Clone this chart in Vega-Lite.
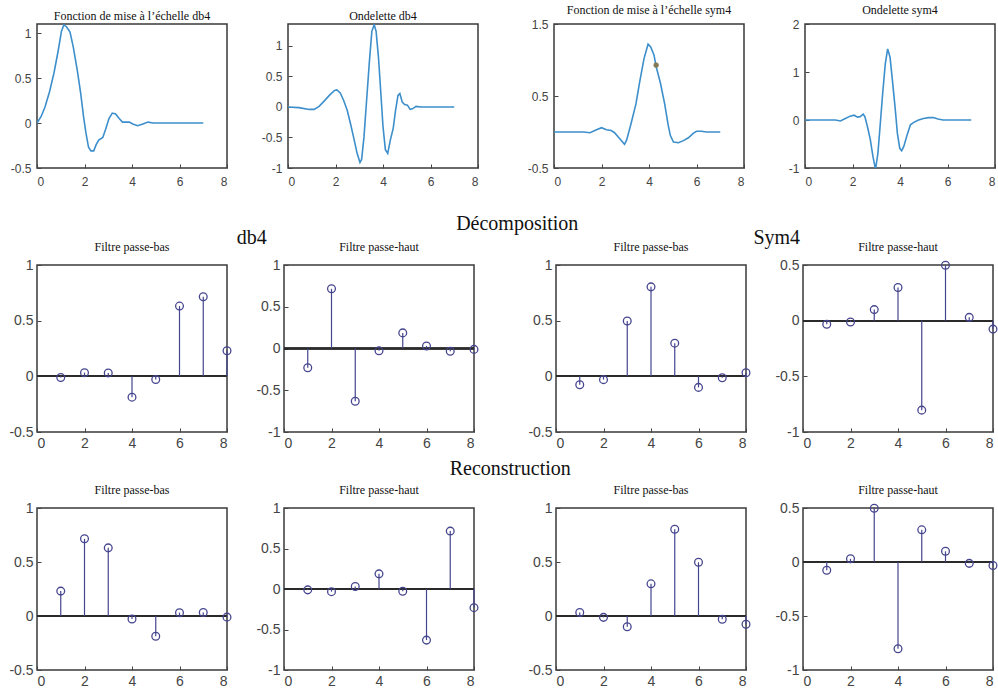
{
"$schema":"https://vega.github.io/schema/vega-lite/v6.json",
"background":"white",
"padding":{"left":4,"top":3,"right":0,"bottom":0},
"datasets":{
"curves":[
{"p":"phi_db4","t":0,"v":0},{"p":"phi_db4","t":0.17,"v":0.07},{"p":"phi_db4","t":0.34,"v":0.18},{"p":"phi_db4","t":0.53,"v":0.35},{"p":"phi_db4","t":0.71,"v":0.55},{"p":"phi_db4","t":0.89,"v":0.8},{"p":"phi_db4","t":1.03,"v":1.02},{"p":"phi_db4","t":1.13,"v":1.09},{"p":"phi_db4","t":1.24,"v":1.07},{"p":"phi_db4","t":1.39,"v":1.01},{"p":"phi_db4","t":1.53,"v":0.84},{"p":"phi_db4","t":1.7,"v":0.58},{"p":"phi_db4","t":1.84,"v":0.33},{"p":"phi_db4","t":1.96,"v":0.07},{"p":"phi_db4","t":2.06,"v":-0.11},{"p":"phi_db4","t":2.17,"v":-0.27},{"p":"phi_db4","t":2.27,"v":-0.31},{"p":"phi_db4","t":2.39,"v":-0.31},{"p":"phi_db4","t":2.49,"v":-0.24},{"p":"phi_db4","t":2.6,"v":-0.19},{"p":"phi_db4","t":2.77,"v":-0.16},{"p":"phi_db4","t":2.89,"v":-0.07},{"p":"phi_db4","t":3.03,"v":0.05},{"p":"phi_db4","t":3.17,"v":0.11},{"p":"phi_db4","t":3.31,"v":0.1},{"p":"phi_db4","t":3.46,"v":0.05},{"p":"phi_db4","t":3.6,"v":0.01},{"p":"phi_db4","t":3.74,"v":0.01},{"p":"phi_db4","t":3.89,"v":0.01},{"p":"phi_db4","t":4.03,"v":-0.01},{"p":"phi_db4","t":4.24,"v":-0.03},{"p":"phi_db4","t":4.46,"v":-0.01},{"p":"phi_db4","t":4.67,"v":0.01},{"p":"phi_db4","t":4.89,"v":0},{"p":"phi_db4","t":7,"v":0},
{"p":"psi_db4","t":0,"v":0},{"p":"psi_db4","t":0.46,"v":-0.01},{"p":"psi_db4","t":0.89,"v":-0.04},{"p":"psi_db4","t":1.1,"v":-0.04},{"p":"psi_db4","t":1.31,"v":0.01},{"p":"psi_db4","t":1.53,"v":0.1},{"p":"psi_db4","t":1.74,"v":0.19},{"p":"psi_db4","t":1.96,"v":0.27},{"p":"psi_db4","t":2.06,"v":0.28},{"p":"psi_db4","t":2.2,"v":0.23},{"p":"psi_db4","t":2.34,"v":0.11},{"p":"psi_db4","t":2.49,"v":-0.05},{"p":"psi_db4","t":2.63,"v":-0.27},{"p":"psi_db4","t":2.77,"v":-0.51},{"p":"psi_db4","t":2.91,"v":-0.76},{"p":"psi_db4","t":3.03,"v":-0.91},{"p":"psi_db4","t":3.1,"v":-0.86},{"p":"psi_db4","t":3.2,"v":-0.49},{"p":"psi_db4","t":3.31,"v":0.11},{"p":"psi_db4","t":3.43,"v":0.76},{"p":"psi_db4","t":3.53,"v":1.24},{"p":"psi_db4","t":3.63,"v":1.35},{"p":"psi_db4","t":3.71,"v":1.24},{"p":"psi_db4","t":3.81,"v":0.81},{"p":"psi_db4","t":3.91,"v":0.22},{"p":"psi_db4","t":4.0,"v":-0.32},{"p":"psi_db4","t":4.1,"v":-0.7},{"p":"psi_db4","t":4.2,"v":-0.76},{"p":"psi_db4","t":4.31,"v":-0.54},{"p":"psi_db4","t":4.43,"v":-0.35},{"p":"psi_db4","t":4.53,"v":-0.05},{"p":"psi_db4","t":4.63,"v":0.19},{"p":"psi_db4","t":4.71,"v":0.22},{"p":"psi_db4","t":4.81,"v":0.08},{"p":"psi_db4","t":4.91,"v":0.04},{"p":"psi_db4","t":5.03,"v":0.03},{"p":"psi_db4","t":5.14,"v":-0.04},{"p":"psi_db4","t":5.24,"v":-0.03},{"p":"psi_db4","t":5.39,"v":0.01},{"p":"psi_db4","t":5.6,"v":0},{"p":"psi_db4","t":7,"v":0},
{"p":"phi_sym4","t":0,"v":0},{"p":"phi_sym4","t":0.69,"v":0},{"p":"phi_sym4","t":1.24,"v":0},{"p":"phi_sym4","t":1.52,"v":-0.01},{"p":"phi_sym4","t":1.79,"v":0.03},{"p":"phi_sym4","t":2.0,"v":0.06},{"p":"phi_sym4","t":2.21,"v":0.03},{"p":"phi_sym4","t":2.41,"v":0.02},{"p":"phi_sym4","t":2.55,"v":-0.01},{"p":"phi_sym4","t":2.76,"v":-0.09},{"p":"phi_sym4","t":2.97,"v":-0.17},{"p":"phi_sym4","t":3.06,"v":-0.11},{"p":"phi_sym4","t":3.24,"v":0.11},{"p":"phi_sym4","t":3.45,"v":0.39},{"p":"phi_sym4","t":3.61,"v":0.7},{"p":"phi_sym4","t":3.79,"v":1.02},{"p":"phi_sym4","t":3.96,"v":1.22},{"p":"phi_sym4","t":4.07,"v":1.18},{"p":"phi_sym4","t":4.21,"v":1.07},{"p":"phi_sym4","t":4.3,"v":0.91},{"p":"phi_sym4","t":4.48,"v":0.68},{"p":"phi_sym4","t":4.66,"v":0.39},{"p":"phi_sym4","t":4.8,"v":0.11},{"p":"phi_sym4","t":4.9,"v":-0.05},{"p":"phi_sym4","t":5.03,"v":-0.14},{"p":"phi_sym4","t":5.24,"v":-0.15},{"p":"phi_sym4","t":5.45,"v":-0.12},{"p":"phi_sym4","t":5.66,"v":-0.08},{"p":"phi_sym4","t":5.86,"v":-0.02},{"p":"phi_sym4","t":6.0,"v":0.01},{"p":"phi_sym4","t":6.21,"v":0.01},{"p":"phi_sym4","t":6.41,"v":0},{"p":"phi_sym4","t":7,"v":0},
{"p":"psi_sym4","t":0,"v":0},{"p":"psi_sym4","t":0.8,"v":0},{"p":"psi_sym4","t":1.28,"v":0},{"p":"psi_sym4","t":1.49,"v":-0.02},{"p":"psi_sym4","t":1.7,"v":0.03},{"p":"psi_sym4","t":1.9,"v":0.08},{"p":"psi_sym4","t":2.07,"v":0.1},{"p":"psi_sym4","t":2.21,"v":0.06},{"p":"psi_sym4","t":2.32,"v":0.07},{"p":"psi_sym4","t":2.45,"v":0.12},{"p":"psi_sym4","t":2.52,"v":0.07},{"p":"psi_sym4","t":2.63,"v":-0.14},{"p":"psi_sym4","t":2.75,"v":-0.41},{"p":"psi_sym4","t":2.86,"v":-0.76},{"p":"psi_sym4","t":2.97,"v":-1.03},{"p":"psi_sym4","t":3.07,"v":-0.69},{"p":"psi_sym4","t":3.16,"v":-0.14},{"p":"psi_sym4","t":3.27,"v":0.55},{"p":"psi_sym4","t":3.38,"v":1.17},{"p":"psi_sym4","t":3.48,"v":1.48},{"p":"psi_sym4","t":3.58,"v":1.31},{"p":"psi_sym4","t":3.68,"v":0.83},{"p":"psi_sym4","t":3.79,"v":0.28},{"p":"psi_sym4","t":3.89,"v":-0.28},{"p":"psi_sym4","t":3.99,"v":-0.59},{"p":"psi_sym4","t":4.07,"v":-0.64},{"p":"psi_sym4","t":4.16,"v":-0.55},{"p":"psi_sym4","t":4.3,"v":-0.31},{"p":"psi_sym4","t":4.44,"v":-0.1},{"p":"psi_sym4","t":4.58,"v":-0.05},{"p":"psi_sym4","t":4.78,"v":0},{"p":"psi_sym4","t":4.99,"v":0.03},{"p":"psi_sym4","t":5.2,"v":0.05},{"p":"psi_sym4","t":5.4,"v":0.05},{"p":"psi_sym4","t":5.6,"v":0.02},{"p":"psi_sym4","t":5.81,"v":0},{"p":"psi_sym4","t":7,"v":0}
],
"marker":[{"t":4.3,"v":0.93}],
"stems":[
{"p":"d_db4_lo","n":1,"v":-0.0106},{"p":"d_db4_lo","n":2,"v":0.0329},{"p":"d_db4_lo","n":3,"v":0.0308},{"p":"d_db4_lo","n":4,"v":-0.187},{"p":"d_db4_lo","n":5,"v":-0.028},{"p":"d_db4_lo","n":6,"v":0.6309},{"p":"d_db4_lo","n":7,"v":0.7148},{"p":"d_db4_lo","n":8,"v":0.2304},
{"p":"d_db4_hi","n":1,"v":-0.2304},{"p":"d_db4_hi","n":2,"v":0.7148},{"p":"d_db4_hi","n":3,"v":-0.6309},{"p":"d_db4_hi","n":4,"v":-0.028},{"p":"d_db4_hi","n":5,"v":0.187},{"p":"d_db4_hi","n":6,"v":0.0308},{"p":"d_db4_hi","n":7,"v":-0.0329},{"p":"d_db4_hi","n":8,"v":-0.0106},
{"p":"d_sym4_lo","n":1,"v":-0.0758},{"p":"d_sym4_lo","n":2,"v":-0.0296},{"p":"d_sym4_lo","n":3,"v":0.4976},{"p":"d_sym4_lo","n":4,"v":0.8037},{"p":"d_sym4_lo","n":5,"v":0.2979},{"p":"d_sym4_lo","n":6,"v":-0.0992},{"p":"d_sym4_lo","n":7,"v":-0.0126},{"p":"d_sym4_lo","n":8,"v":0.0322},
{"p":"d_sym4_hi","n":1,"v":-0.0322},{"p":"d_sym4_hi","n":2,"v":-0.0126},{"p":"d_sym4_hi","n":3,"v":0.0992},{"p":"d_sym4_hi","n":4,"v":0.2979},{"p":"d_sym4_hi","n":5,"v":-0.8037},{"p":"d_sym4_hi","n":6,"v":0.4976},{"p":"d_sym4_hi","n":7,"v":0.0296},{"p":"d_sym4_hi","n":8,"v":-0.0758},
{"p":"r_db4_lo","n":1,"v":0.2304},{"p":"r_db4_lo","n":2,"v":0.7148},{"p":"r_db4_lo","n":3,"v":0.6309},{"p":"r_db4_lo","n":4,"v":-0.028},{"p":"r_db4_lo","n":5,"v":-0.187},{"p":"r_db4_lo","n":6,"v":0.0308},{"p":"r_db4_lo","n":7,"v":0.0329},{"p":"r_db4_lo","n":8,"v":-0.0106},
{"p":"r_db4_hi","n":1,"v":-0.0106},{"p":"r_db4_hi","n":2,"v":-0.0329},{"p":"r_db4_hi","n":3,"v":0.0308},{"p":"r_db4_hi","n":4,"v":0.187},{"p":"r_db4_hi","n":5,"v":-0.028},{"p":"r_db4_hi","n":6,"v":-0.6309},{"p":"r_db4_hi","n":7,"v":0.7148},{"p":"r_db4_hi","n":8,"v":-0.2304},
{"p":"r_sym4_lo","n":1,"v":0.0322},{"p":"r_sym4_lo","n":2,"v":-0.0126},{"p":"r_sym4_lo","n":3,"v":-0.0992},{"p":"r_sym4_lo","n":4,"v":0.2979},{"p":"r_sym4_lo","n":5,"v":0.8037},{"p":"r_sym4_lo","n":6,"v":0.4976},{"p":"r_sym4_lo","n":7,"v":-0.0296},{"p":"r_sym4_lo","n":8,"v":-0.0758},
{"p":"r_sym4_hi","n":1,"v":-0.0758},{"p":"r_sym4_hi","n":2,"v":0.0296},{"p":"r_sym4_hi","n":3,"v":0.4976},{"p":"r_sym4_hi","n":4,"v":-0.8037},{"p":"r_sym4_hi","n":5,"v":0.2979},{"p":"r_sym4_hi","n":6,"v":0.0992},{"p":"r_sym4_hi","n":7,"v":-0.0126},{"p":"r_sym4_hi","n":8,"v":-0.0322}
]
},
"config":{
"view":{"stroke":"#3a3a3a","strokeWidth":1.5},
"axis":{"domain":false,"grid":false,"title":null,"tickColor":"#444","tickSize":-4,"labelPadding":8,"labelColor":"#444","labelFont":"Liberation Sans","labelFontSize":14,"labelExpr":"replace(format(datum.value, '~g'), '\u2212', '-')"},
"axisY":{"minExtent":32,"maxExtent":32},
"axisX":{"minExtent":18,"maxExtent":18},
"title":{"font":"Liberation Serif","fontSize":12,"fontWeight":"normal","color":"#111","offset":4}
},
"spacing":26,
"vconcat":[
{"spacing":41,"hconcat":[
 {"spacing":26,"hconcat":[
  {"title":{"text":"Fonction de mise à l’échelle db4","offset":1},"width":190,"height":144,"data":{"name":"curves"},"transform":[{"filter":"datum.p=='phi_db4'"}],
   "mark":{"type":"line","color":"#3d8fcc","strokeWidth":1.6,"clip":true},
   "encoding":{"x":{"field":"t","type":"quantitative","scale":{"domain":[0,8],"nice":false},"axis":{"values":[0,2,4,6,8],"labelFontSize":12,"labelPadding":12}},
   "y":{"field":"v","type":"quantitative","scale":{"domain":[-0.5,1.1],"nice":false,"zero":false},"axis":{"values":[-0.5,0,0.5,1],"labelFontSize":12,"labelPadding":10}}}},
  {"title":{"text":"Ondelette db4","offset":1},"width":190,"height":144,"data":{"name":"curves"},"transform":[{"filter":"datum.p=='psi_db4'"}],
   "mark":{"type":"line","color":"#3d8fcc","strokeWidth":1.6,"clip":true},
   "encoding":{"x":{"field":"t","type":"quantitative","scale":{"domain":[0,8],"nice":false},"axis":{"values":[0,2,4,6,8],"labelFontSize":12,"labelPadding":12}},
   "y":{"field":"v","type":"quantitative","scale":{"domain":[-1,1.36],"nice":false,"zero":false},"axis":{"values":[-1,-0.5,0,0.5,1],"labelFontSize":12,"labelPadding":10}}}}
 ]},
 {"spacing":26,"hconcat":[
  {"title":{"text":"Fonction de mise à l’échelle sym4","offset":1},"width":190,"height":144,
   "layer":[
    {"data":{"name":"curves"},"transform":[{"filter":"datum.p=='phi_sym4'"}],
     "mark":{"type":"line","color":"#3d8fcc","strokeWidth":1.6,"clip":true},
     "encoding":{"x":{"field":"t","type":"quantitative","scale":{"domain":[0,8],"nice":false},"axis":{"values":[0,2,4,6,8],"labelFontSize":12,"labelPadding":12}},
     "y":{"field":"v","type":"quantitative","scale":{"domain":[-0.5,1.5],"nice":false,"zero":false},"axis":{"values":[-0.5,0,0.5,1,1.5],"labelFontSize":12,"labelPadding":10}}}},
    {"data":{"name":"marker"},"mark":{"type":"point","shape":"circle","filled":true,"color":"#857a55","size":28,"opacity":1},
     "encoding":{"x":{"field":"t","type":"quantitative"},"y":{"field":"v","type":"quantitative"}}}
   ]},
  {"title":{"text":"Ondelette sym4","offset":1},"width":190,"height":144,"data":{"name":"curves"},"transform":[{"filter":"datum.p=='psi_sym4'"}],
   "mark":{"type":"line","color":"#3d8fcc","strokeWidth":1.6,"clip":true},
   "encoding":{"x":{"field":"t","type":"quantitative","scale":{"domain":[0,8],"nice":false},"axis":{"values":[0,2,4,6,8],"labelFontSize":12,"labelPadding":12}},
   "y":{"field":"v","type":"quantitative","scale":{"domain":[-1,2],"nice":false,"zero":false},"axis":{"values":[-1,0,1,2],"labelFontSize":12,"labelPadding":10}}}}
 ]}
]},
{"spacing":8,"vconcat":[
 {"title":{"text":"Décomposition","fontSize":20,"offset":-6,"anchor":"middle","dx":15},"spacing":41,"hconcat":[
  {"title":{"text":"db4","fontSize":20,"offset":-8,"anchor":"middle","dx":9},"spacing":16,"hconcat":[
   {"title":"Filtre passe-bas","width":190,"height":167,"data":{"name":"stems"},"transform":[{"filter":"datum.p=='d_db4_lo'"}],"layer":[
    {"mark":{"type":"rule","color":"#2b2b2b","strokeWidth":1.5},"encoding":{"y":{"datum":0,"type":"quantitative"}}},
    {"mark":{"type":"rule","color":"#45458f","strokeWidth":1.2},"encoding":{"x":{"field":"n","type":"quantitative","scale":{"domain":[0,8],"nice":false},"axis":{"values":[0,2,4,6,8]}},"y":{"field":"v","type":"quantitative","scale":{"domain":[-0.5,1],"nice":false,"zero":false},"axis":{"values":[-0.5,0,0.5,1]}},"y2":{"datum":0}}},
    {"mark":{"type":"point","shape":"circle","filled":false,"color":"#45458f","size":60,"strokeWidth":1.3,"opacity":1},"encoding":{"x":{"field":"n","type":"quantitative"},"y":{"field":"v","type":"quantitative"}}}]},
   {"title":"Filtre passe-haut","width":190,"height":167,"data":{"name":"stems"},"transform":[{"filter":"datum.p=='d_db4_hi'"}],"layer":[
    {"mark":{"type":"rule","color":"#2b2b2b","strokeWidth":1.5},"encoding":{"y":{"datum":0,"type":"quantitative"}}},
    {"mark":{"type":"rule","color":"#45458f","strokeWidth":1.2},"encoding":{"x":{"field":"n","type":"quantitative","scale":{"domain":[0,8],"nice":false},"axis":{"values":[0,2,4,6,8]}},"y":{"field":"v","type":"quantitative","scale":{"domain":[-1,1],"nice":false,"zero":false},"axis":{"values":[-1,-0.5,0,0.5,1]}},"y2":{"datum":0}}},
    {"mark":{"type":"point","shape":"circle","filled":false,"color":"#45458f","size":60,"strokeWidth":1.3,"opacity":1},"encoding":{"x":{"field":"n","type":"quantitative"},"y":{"field":"v","type":"quantitative"}}}]}
  ]},
  {"title":{"text":"Sym4","fontSize":20,"offset":-8,"anchor":"middle","dx":15},"spacing":16,"hconcat":[
   {"title":"Filtre passe-bas","width":190,"height":167,"data":{"name":"stems"},"transform":[{"filter":"datum.p=='d_sym4_lo'"}],"layer":[
    {"mark":{"type":"rule","color":"#2b2b2b","strokeWidth":1.5},"encoding":{"y":{"datum":0,"type":"quantitative"}}},
    {"mark":{"type":"rule","color":"#45458f","strokeWidth":1.2},"encoding":{"x":{"field":"n","type":"quantitative","scale":{"domain":[0,8],"nice":false},"axis":{"values":[0,2,4,6,8]}},"y":{"field":"v","type":"quantitative","scale":{"domain":[-0.5,1],"nice":false,"zero":false},"axis":{"values":[-0.5,0,0.5,1]}},"y2":{"datum":0}}},
    {"mark":{"type":"point","shape":"circle","filled":false,"color":"#45458f","size":60,"strokeWidth":1.3,"opacity":1},"encoding":{"x":{"field":"n","type":"quantitative"},"y":{"field":"v","type":"quantitative"}}}]},
   {"title":"Filtre passe-haut","width":190,"height":167,"data":{"name":"stems"},"transform":[{"filter":"datum.p=='d_sym4_hi'"}],"layer":[
    {"mark":{"type":"rule","color":"#2b2b2b","strokeWidth":1.5},"encoding":{"y":{"datum":0,"type":"quantitative"}}},
    {"mark":{"type":"rule","color":"#45458f","strokeWidth":1.2},"encoding":{"x":{"field":"n","type":"quantitative","scale":{"domain":[0,8],"nice":false},"axis":{"values":[0,2,4,6,8]}},"y":{"field":"v","type":"quantitative","scale":{"domain":[-1,0.5],"nice":false,"zero":false},"axis":{"values":[-1,-0.5,0,0.5]}},"y2":{"datum":0}}},
    {"mark":{"type":"point","shape":"circle","filled":false,"color":"#45458f","size":60,"strokeWidth":1.3,"opacity":1},"encoding":{"x":{"field":"n","type":"quantitative"},"y":{"field":"v","type":"quantitative"}}}]}
  ]}
 ]},
 {"title":{"text":"Reconstruction","fontSize":20,"offset":4,"anchor":"middle","dx":8},"spacing":41,"hconcat":[
  {"spacing":16,"hconcat":[
   {"title":"Filtre passe-bas","width":190,"height":162,"data":{"name":"stems"},"transform":[{"filter":"datum.p=='r_db4_lo'"}],"layer":[
    {"mark":{"type":"rule","color":"#2b2b2b","strokeWidth":1.5},"encoding":{"y":{"datum":0,"type":"quantitative"}}},
    {"mark":{"type":"rule","color":"#45458f","strokeWidth":1.2},"encoding":{"x":{"field":"n","type":"quantitative","scale":{"domain":[0,8],"nice":false},"axis":{"values":[0,2,4,6,8]}},"y":{"field":"v","type":"quantitative","scale":{"domain":[-0.5,1],"nice":false,"zero":false},"axis":{"values":[-0.5,0,0.5,1]}},"y2":{"datum":0}}},
    {"mark":{"type":"point","shape":"circle","filled":false,"color":"#45458f","size":60,"strokeWidth":1.3,"opacity":1},"encoding":{"x":{"field":"n","type":"quantitative"},"y":{"field":"v","type":"quantitative"}}}]},
   {"title":"Filtre passe-haut","width":190,"height":162,"data":{"name":"stems"},"transform":[{"filter":"datum.p=='r_db4_hi'"}],"layer":[
    {"mark":{"type":"rule","color":"#2b2b2b","strokeWidth":1.5},"encoding":{"y":{"datum":0,"type":"quantitative"}}},
    {"mark":{"type":"rule","color":"#45458f","strokeWidth":1.2},"encoding":{"x":{"field":"n","type":"quantitative","scale":{"domain":[0,8],"nice":false},"axis":{"values":[0,2,4,6,8]}},"y":{"field":"v","type":"quantitative","scale":{"domain":[-1,1],"nice":false,"zero":false},"axis":{"values":[-1,-0.5,0,0.5,1]}},"y2":{"datum":0}}},
    {"mark":{"type":"point","shape":"circle","filled":false,"color":"#45458f","size":60,"strokeWidth":1.3,"opacity":1},"encoding":{"x":{"field":"n","type":"quantitative"},"y":{"field":"v","type":"quantitative"}}}]}
  ]},
  {"spacing":16,"hconcat":[
   {"title":"Filtre passe-bas","width":190,"height":162,"data":{"name":"stems"},"transform":[{"filter":"datum.p=='r_sym4_lo'"}],"layer":[
    {"mark":{"type":"rule","color":"#2b2b2b","strokeWidth":1.5},"encoding":{"y":{"datum":0,"type":"quantitative"}}},
    {"mark":{"type":"rule","color":"#45458f","strokeWidth":1.2},"encoding":{"x":{"field":"n","type":"quantitative","scale":{"domain":[0,8],"nice":false},"axis":{"values":[0,2,4,6,8]}},"y":{"field":"v","type":"quantitative","scale":{"domain":[-0.5,1],"nice":false,"zero":false},"axis":{"values":[-0.5,0,0.5,1]}},"y2":{"datum":0}}},
    {"mark":{"type":"point","shape":"circle","filled":false,"color":"#45458f","size":60,"strokeWidth":1.3,"opacity":1},"encoding":{"x":{"field":"n","type":"quantitative"},"y":{"field":"v","type":"quantitative"}}}]},
   {"title":"Filtre passe-haut","width":190,"height":162,"data":{"name":"stems"},"transform":[{"filter":"datum.p=='r_sym4_hi'"}],"layer":[
    {"mark":{"type":"rule","color":"#2b2b2b","strokeWidth":1.5},"encoding":{"y":{"datum":0,"type":"quantitative"}}},
    {"mark":{"type":"rule","color":"#45458f","strokeWidth":1.2},"encoding":{"x":{"field":"n","type":"quantitative","scale":{"domain":[0,8],"nice":false},"axis":{"values":[0,2,4,6,8]}},"y":{"field":"v","type":"quantitative","scale":{"domain":[-1,0.5],"nice":false,"zero":false},"axis":{"values":[-1,-0.5,0,0.5]}},"y2":{"datum":0}}},
    {"mark":{"type":"point","shape":"circle","filled":false,"color":"#45458f","size":60,"strokeWidth":1.3,"opacity":1},"encoding":{"x":{"field":"n","type":"quantitative"},"y":{"field":"v","type":"quantitative"}}}]}
  ]}
 ]}
]}
]
}
